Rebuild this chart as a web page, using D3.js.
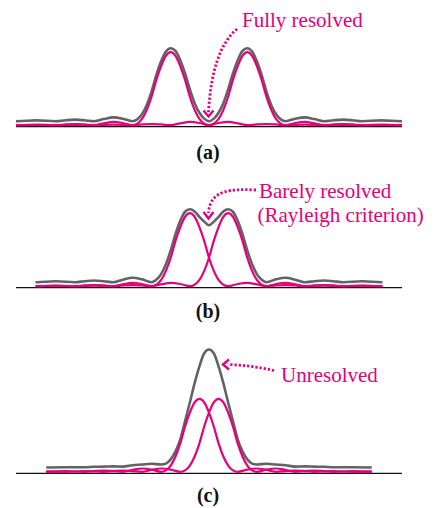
<!DOCTYPE html>
<html>
<head>
<meta charset="utf-8">
<script src="https://cdn.jsdelivr.net/npm/d3@7"></script>
<style>
  html, body { margin: 0; padding: 0; background: #fff; }
  svg { display: block; }
</style>
</head>
<body>
<svg id="chart" width="443" height="508"></svg>
<script>
// ---- Data ----
// Single-source diffraction profile: offset from peak (in units of first-zero distance) and relative intensity
const profileOffsets = [0, 0.125, 0.25, 0.375, 0.5, 0.625, 0.75, 0.875, 1.0,
  1.25, 1.5, 1.75, 2.0, 2.25, 2.5, 2.75, 3.0, 3.5, 4.0, 4.5, 5.0, 5.5, 6.0, 6.5];
const profileIntensity = [1.00, 0.95, 0.81, 0.62, 0.39, 0.21, 0.085, 0.02, 0.0,
  0.03, 0.045, 0.025, 0.0, 0.01, 0.016, 0.01, 0.0, 0.008, 0.0, 0.005, 0.0, 0.003, 0.0, 0.002];

// Panels
const panelIds = ["a", "b", "c"];
const panelLabels = ["(a)", "(b)", "(c)"];
const peakHalfSeparation = [1.0, 0.5, 0.25];      // source peaks at ±value
const curveExtent = [5.04, 4.53, 4.25];           // curves drawn over ±extent
const annotationLines = [["Fully resolved"], ["Barely resolved", "(Rayleigh criterion)"], ["Unresolved"]];

// ---- Layout ----
const W = 443, H = 508;
const PINK = "#e3007b", GRAY = "#636363";
const baselineY = [126.7, 287.7, 473.3];
const peakPx = 73;
const grayLift = 5.5, pinkLift = 1.5;

const svg = d3.select("#chart");
const x = d3.scaleLinear().domain([-5.04, 5.04]).range([16, 402]);
const prof = d3.scaleLinear().domain(profileOffsets).range(profileIntensity).clamp(true);
const f = u => prof(Math.abs(u));

const line = d3.line().x(d => x(d[0])).curve(d3.curveMonotoneX);

panelIds.forEach((id, i) => {
  const g = svg.append("g").attr("class", "panel-" + id);
  const y = d3.scaleLinear().domain([0, 1]).range([baselineY[i], baselineY[i] - peakPx]);
  const ext = curveExtent[i];
  const peaks = [-peakHalfSeparation[i], peakHalfSeparation[i]];

  // sample positions for each source
  const pts = peaks.map(p => {
    let xs = [];
    profileOffsets.forEach(u => { xs.push(p + u); if (u > 0) xs.push(p - u); });
    xs = xs.filter(v => v > -ext && v < ext);
    xs.push(-ext, ext);
    xs = Array.from(new Set(xs.map(v => +v.toFixed(4)))).sort((a, b) => a - b);
    return xs;
  });
  const allX = Array.from(new Set(pts[0].concat(pts[1]))).sort((a, b) => a - b);

  // baseline
  g.append("line")
    .attr("x1", 16).attr("x2", 402)
    .attr("y1", baselineY[i]).attr("y2", baselineY[i])
    .attr("stroke", "#111").attr("stroke-width", 1.2);

  // sum (gray)
  const sumData = allX.map(v => [v, f(v - peaks[0]) + f(v - peaks[1])]);
  g.append("path")
    .datum(sumData)
    .attr("d", line.y(d => y(d[1]) - grayLift))
    .attr("fill", "none").attr("stroke", GRAY).attr("stroke-width", 2.6)
    .attr("stroke-linejoin", "round");

  // individual sources (pink)
  peaks.forEach((p, k) => {
    const data = pts[k].map(v => [v, f(v - p)]);
    g.append("path")
      .datum(data)
      .attr("d", line.y(d => y(d[1]) - pinkLift))
      .attr("fill", "none").attr("stroke", PINK).attr("stroke-width", 2.2)
      .attr("stroke-linejoin", "round");
  });

  // panel label
  g.append("text")
    .attr("x", x(0) - 1).attr("y", [158.5, 318, 502][i])
    .attr("text-anchor", "middle")
    .attr("font-family", "'Liberation Serif', 'Times New Roman', serif")
    .attr("font-weight", "bold").attr("font-size", 20)
    .attr("fill", "#111")
    .text(panelLabels[i]);
});

// ---- Annotations ----
const font = "'Liberation Serif', 'Times New Roman', serif";
const ann = svg.append("g").attr("class", "annotations");
const textPos = [[242, 27], [259, 198], [281, 382]];
annotationLines.forEach((lines, i) => {
  lines.forEach((t, j) => {
    ann.append("text")
      .attr("x", textPos[i][0] - (j > 0 ? 1.5 : 0))
      .attr("y", textPos[i][1] + j * 23.5)
      .attr("font-family", font).attr("font-size", 21)
      .attr("fill", PINK)
      .text(t);
  });
});

const dotted = (d) => ann.append("path").attr("d", d)
  .attr("fill", "none").attr("stroke", PINK).attr("stroke-width", 2.8)
  .attr("stroke-dasharray", "2.2 2");
const head = (d) => ann.append("path").attr("d", d)
  .attr("fill", "none").attr("stroke", PINK).attr("stroke-width", 2.4)
  .attr("stroke-linejoin", "miter").attr("stroke-linecap", "butt");

// (a)
dotted("M237,29 Q212,50 208.5,112");
head("M203.5,110.5 L208.5,116.5 L213.5,110.5");
// (b)
dotted("M256,190 C232,189 210,189 208.5,213");
head("M203.5,212 L208.5,218.5 L213.5,212");
// (c)
dotted("M274,370.5 Q252,365.5 228,364.5");
head("M229,359.5 L223,364.5 L229,369.5");
</script>
</body>
</html>
